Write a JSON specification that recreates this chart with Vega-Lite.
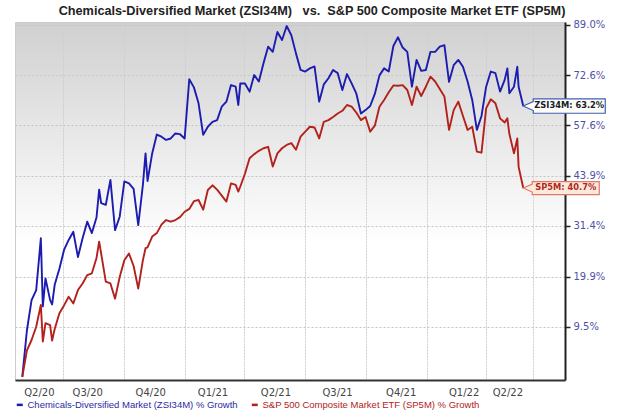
{
  "$schema": "https://vega.github.io/schema/vega-lite/v6.json",
  "width": 550,
  "height": 358,
  "autosize": {"type": "none"},
  "padding": {"left": 15, "top": 22, "right": 55, "bottom": 35},
  "background": "#ffffff",
  "title": {
    "text": "Chemicals-Diversified Market (ZSI34M)\u00a0\u00a0\u00a0vs.\u00a0\u00a0S&P 500 Composite Market ETF (SP5M)",
    "font": "Liberation Sans",
    "fontSize": 12.7,
    "fontWeight": "bold",
    "color": "#222222",
    "anchor": "middle",
    "frame": "group",
    "dx": 22,
    "offset": 2
  },
  "config": {
    "view": {
      "stroke": "#cccccc",
      "strokeWidth": 1,
      "fill": {
        "gradient": "linear",
        "x1": 0, "y1": 0, "x2": 0, "y2": 1,
        "stops": [
          {"offset": 0, "color": "#d0d0d0"},
          {"offset": 0.5, "color": "#f6f6f6"},
          {"offset": 0.62, "color": "#ffffff"},
          {"offset": 1, "color": "#ffffff"}
        ]
      }
    }
  },
  "datasets": {
    "perf": [
      {"date": "2020-05-01", "ZSI34M": 100.0, "SP5M": 100.0},
      {"date": "2020-05-08", "ZSI34M": 108.8, "SP5M": 104.9},
      {"date": "2020-05-15", "ZSI34M": 114.9, "SP5M": 106.9},
      {"date": "2020-05-22", "ZSI34M": 117.0, "SP5M": 109.5},
      {"date": "2020-05-29", "ZSI34M": 128.5, "SP5M": 113.9},
      {"date": "2020-06-01", "ZSI34M": 113.6, "SP5M": 106.6},
      {"date": "2020-06-05", "ZSI34M": 119.5, "SP5M": 110.2},
      {"date": "2020-06-12", "ZSI34M": 114.9, "SP5M": 109.8},
      {"date": "2020-06-15", "ZSI34M": 114.0, "SP5M": 106.8},
      {"date": "2020-06-19", "ZSI34M": 118.2, "SP5M": 109.1},
      {"date": "2020-06-26", "ZSI34M": 121.6, "SP5M": 112.2},
      {"date": "2020-07-03", "ZSI34M": 125.8, "SP5M": 113.8},
      {"date": "2020-07-10", "ZSI34M": 128.1, "SP5M": 115.6},
      {"date": "2020-07-17", "ZSI34M": 130.0, "SP5M": 114.2},
      {"date": "2020-07-24", "ZSI34M": 124.2, "SP5M": 117.0},
      {"date": "2020-07-31", "ZSI34M": 128.5, "SP5M": 118.4},
      {"date": "2020-08-07", "ZSI34M": 132.4, "SP5M": 120.2},
      {"date": "2020-08-14", "ZSI34M": 129.7, "SP5M": 120.6},
      {"date": "2020-08-21", "ZSI34M": 133.4, "SP5M": 124.0},
      {"date": "2020-08-25", "ZSI34M": 140.3, "SP5M": 127.7},
      {"date": "2020-08-28", "ZSI34M": 136.9, "SP5M": 125.0},
      {"date": "2020-09-04", "ZSI34M": 136.5, "SP5M": 118.8},
      {"date": "2020-09-11", "ZSI34M": 142.8, "SP5M": 118.4},
      {"date": "2020-09-18", "ZSI34M": 130.4, "SP5M": 115.2},
      {"date": "2020-09-25", "ZSI34M": 133.6, "SP5M": 119.8},
      {"date": "2020-10-02", "ZSI34M": 142.4, "SP5M": 123.5},
      {"date": "2020-10-09", "ZSI34M": 141.9, "SP5M": 125.0},
      {"date": "2020-10-16", "ZSI34M": 140.5, "SP5M": 122.2},
      {"date": "2020-10-23", "ZSI34M": 131.6, "SP5M": 117.3},
      {"date": "2020-10-30", "ZSI34M": 141.5, "SP5M": 123.5},
      {"date": "2020-11-03", "ZSI34M": 149.8, "SP5M": 126.2},
      {"date": "2020-11-06", "ZSI34M": 142.5, "SP5M": 126.4},
      {"date": "2020-11-13", "ZSI34M": 149.8, "SP5M": 128.9},
      {"date": "2020-11-20", "ZSI34M": 155.0, "SP5M": 129.7},
      {"date": "2020-11-27", "ZSI34M": 154.4, "SP5M": 131.7},
      {"date": "2020-12-04", "ZSI34M": 153.5, "SP5M": 132.8},
      {"date": "2020-12-11", "ZSI34M": 153.9, "SP5M": 132.4},
      {"date": "2020-12-18", "ZSI34M": 155.3, "SP5M": 132.8},
      {"date": "2020-12-25", "ZSI34M": 155.1, "SP5M": 133.5},
      {"date": "2021-01-01", "ZSI34M": 153.9, "SP5M": 134.8},
      {"date": "2021-01-08", "ZSI34M": 171.3, "SP5M": 135.5},
      {"date": "2021-01-15", "ZSI34M": 168.8, "SP5M": 137.4},
      {"date": "2021-01-22", "ZSI34M": 164.0, "SP5M": 137.7},
      {"date": "2021-01-29", "ZSI34M": 154.9, "SP5M": 135.3},
      {"date": "2021-02-05", "ZSI34M": 157.2, "SP5M": 140.2},
      {"date": "2021-02-12", "ZSI34M": 158.6, "SP5M": 141.4},
      {"date": "2021-02-19", "ZSI34M": 159.1, "SP5M": 140.3},
      {"date": "2021-02-26", "ZSI34M": 163.0, "SP5M": 138.8},
      {"date": "2021-03-05", "ZSI34M": 164.5, "SP5M": 137.3},
      {"date": "2021-03-12", "ZSI34M": 169.5, "SP5M": 141.9},
      {"date": "2021-03-19", "ZSI34M": 169.0, "SP5M": 141.5},
      {"date": "2021-03-23", "ZSI34M": 163.5, "SP5M": 139.8},
      {"date": "2021-03-26", "ZSI34M": 170.0, "SP5M": 141.1},
      {"date": "2021-04-02", "ZSI34M": 170.0, "SP5M": 144.4},
      {"date": "2021-04-09", "ZSI34M": 167.5, "SP5M": 148.5},
      {"date": "2021-04-16", "ZSI34M": 172.6, "SP5M": 149.6},
      {"date": "2021-04-23", "ZSI34M": 170.6, "SP5M": 150.5},
      {"date": "2021-04-30", "ZSI34M": 176.3, "SP5M": 151.2},
      {"date": "2021-05-07", "ZSI34M": 181.7, "SP5M": 151.6},
      {"date": "2021-05-14", "ZSI34M": 180.0, "SP5M": 146.3},
      {"date": "2021-05-21", "ZSI34M": 186.6, "SP5M": 149.8},
      {"date": "2021-05-28", "ZSI34M": 183.9, "SP5M": 151.2},
      {"date": "2021-06-04", "ZSI34M": 188.6, "SP5M": 152.1},
      {"date": "2021-06-11", "ZSI34M": 185.5, "SP5M": 152.6},
      {"date": "2021-06-18", "ZSI34M": 179.5, "SP5M": 150.8},
      {"date": "2021-06-25", "ZSI34M": 174.2, "SP5M": 154.4},
      {"date": "2021-07-02", "ZSI34M": 173.7, "SP5M": 155.8},
      {"date": "2021-07-09", "ZSI34M": 174.7, "SP5M": 157.2},
      {"date": "2021-07-16", "ZSI34M": 175.3, "SP5M": 157.0},
      {"date": "2021-07-23", "ZSI34M": 164.5, "SP5M": 153.9},
      {"date": "2021-07-30", "ZSI34M": 169.7, "SP5M": 158.6},
      {"date": "2021-08-06", "ZSI34M": 171.6, "SP5M": 159.1},
      {"date": "2021-08-13", "ZSI34M": 174.2, "SP5M": 160.0},
      {"date": "2021-08-20", "ZSI34M": 173.2, "SP5M": 161.0},
      {"date": "2021-08-27", "ZSI34M": 168.0, "SP5M": 161.8},
      {"date": "2021-09-03", "ZSI34M": 172.9, "SP5M": 163.5},
      {"date": "2021-09-10", "ZSI34M": 170.0, "SP5M": 163.0},
      {"date": "2021-09-17", "ZSI34M": 167.0, "SP5M": 161.3},
      {"date": "2021-09-24", "ZSI34M": 161.0, "SP5M": 159.1},
      {"date": "2021-10-01", "ZSI34M": 162.0, "SP5M": 160.0},
      {"date": "2021-10-08", "ZSI34M": 163.2, "SP5M": 155.8},
      {"date": "2021-10-15", "ZSI34M": 166.8, "SP5M": 157.5},
      {"date": "2021-10-22", "ZSI34M": 172.5, "SP5M": 163.0},
      {"date": "2021-10-29", "ZSI34M": 174.7, "SP5M": 165.0},
      {"date": "2021-11-05", "ZSI34M": 173.7, "SP5M": 167.3},
      {"date": "2021-11-12", "ZSI34M": 181.9, "SP5M": 169.4},
      {"date": "2021-11-19", "ZSI34M": 184.8, "SP5M": 169.3},
      {"date": "2021-11-26", "ZSI34M": 181.4, "SP5M": 169.5},
      {"date": "2021-12-03", "ZSI34M": 180.0, "SP5M": 168.0},
      {"date": "2021-12-10", "ZSI34M": 169.0, "SP5M": 163.5},
      {"date": "2021-12-17", "ZSI34M": 177.4, "SP5M": 169.0},
      {"date": "2021-12-24", "ZSI34M": 173.9, "SP5M": 166.2},
      {"date": "2021-12-31", "ZSI34M": 174.2, "SP5M": 169.0},
      {"date": "2022-01-07", "ZSI34M": 180.0, "SP5M": 172.1},
      {"date": "2022-01-14", "ZSI34M": 180.0, "SP5M": 170.6},
      {"date": "2022-01-21", "ZSI34M": 181.7, "SP5M": 168.3},
      {"date": "2022-01-28", "ZSI34M": 182.2, "SP5M": 166.0},
      {"date": "2022-02-04", "ZSI34M": 170.5, "SP5M": 156.3},
      {"date": "2022-02-11", "ZSI34M": 175.7, "SP5M": 162.0},
      {"date": "2022-02-18", "ZSI34M": 177.4, "SP5M": 164.5},
      {"date": "2022-02-25", "ZSI34M": 175.2, "SP5M": 160.3},
      {"date": "2022-03-04", "ZSI34M": 170.6, "SP5M": 156.3},
      {"date": "2022-03-11", "ZSI34M": 165.0, "SP5M": 157.2},
      {"date": "2022-03-18", "ZSI34M": 156.3, "SP5M": 150.3},
      {"date": "2022-03-25", "ZSI34M": 160.3, "SP5M": 150.0},
      {"date": "2022-04-01", "ZSI34M": 169.0, "SP5M": 162.5},
      {"date": "2022-04-08", "ZSI34M": 173.7, "SP5M": 165.2},
      {"date": "2022-04-15", "ZSI34M": 173.2, "SP5M": 164.0},
      {"date": "2022-04-22", "ZSI34M": 167.5, "SP5M": 159.6},
      {"date": "2022-04-29", "ZSI34M": 171.1, "SP5M": 158.4},
      {"date": "2022-05-03", "ZSI34M": 174.7, "SP5M": 159.6},
      {"date": "2022-05-06", "ZSI34M": 167.0, "SP5M": 155.2},
      {"date": "2022-05-13", "ZSI34M": 169.0, "SP5M": 149.8},
      {"date": "2022-05-18", "ZSI34M": 175.2, "SP5M": 153.9},
      {"date": "2022-05-20", "ZSI34M": 169.0, "SP5M": 146.2},
      {"date": "2022-05-27", "ZSI34M": 163.2, "SP5M": 140.7}
    ],
    "ends": [
      {"date": "2022-05-27", "series": "ZSI34M", "value": 163.2, "label": "ZSI34M: 63.2%"},
      {"date": "2022-05-27", "series": "SP5M", "value": 140.7, "label": "SP5M: 40.7%"}
    ]
  },
  "layer": [
    {
      "data": {"name": "perf"},
      "transform": [{"fold": ["ZSI34M", "SP5M"], "as": ["series", "value"]}],
      "mark": {"type": "line", "strokeWidth": 1.9, "strokeJoin": "round"},
      "encoding": {
        "x": {
          "field": "date",
          "type": "temporal",
          "scale": {
            "domain": [
              {"year": 2020, "month": 4, "date": 20, "utc": true},
              {"year": 2022, "month": 7, "date": 29, "utc": true}
            ]
          },
          "axis": {
            "orient": "bottom",
            "title": null,
            "values": [
              {"year": 2020, "month": 7, "date": 1, "utc": true},
              {"year": 2020, "month": 10, "date": 1, "utc": true},
              {"year": 2021, "month": 1, "date": 1, "utc": true},
              {"year": 2021, "month": 4, "date": 1, "utc": true},
              {"year": 2021, "month": 7, "date": 1, "utc": true},
              {"year": 2021, "month": 10, "date": 1, "utc": true},
              {"year": 2022, "month": 1, "date": 1, "utc": true},
              {"year": 2022, "month": 4, "date": 1, "utc": true},
              {"year": 2022, "month": 6, "date": 10, "utc": true}
            ],
            "grid": true,
            "gridColor": "#cfcfcf",
            "gridDash": [2, 1],
            "labels": false,
            "ticks": false,
            "domain": true,
            "domainColor": "#333333",
            "domainWidth": 2
          }
        },
        "y": {
          "field": "value",
          "type": "quantitative",
          "scale": {"type": "log", "domain": [99.44, 189.98], "nice": false, "zero": false},
          "axis": {
            "orient": "right",
            "title": null,
            "values": [109.5, 119.9, 131.4, 143.9, 157.6, 172.6, 189.0],
            "labelExpr": "format(datum.value - 100, '.1f') + '%'",
            "grid": true,
            "gridColor": "#c4c4c4",
            "gridDash": [2, 2],
            "domainColor": "#222222",
            "domainWidth": 2,
            "tickColor": "#222222",
            "tickSize": 5,
            "tickWidth": 1.5,
            "labelFont": "DejaVu Sans",
            "labelFontSize": 10,
            "labelColor": "#5050a8",
            "labelPadding": 3
          }
        },
        "color": {
          "field": "series",
          "type": "nominal",
          "scale": {"domain": ["ZSI34M", "SP5M"], "range": ["#1c1cb0", "#b3211c"]},
          "legend": {
            "orient": "none",
            "legendX": 0,
            "legendY": 378,
            "direction": "horizontal",
            "title": null,
            "padding": 0,
            "symbolType": "stroke",
            "symbolSize": 36,
            "symbolStrokeWidth": 2.5,
            "labelFont": "Liberation Sans",
            "labelFontSize": 9.5,
            "labelLimit": 400,
            "labelOffset": 3,
            "columnPadding": 8,
            "labelExpr": "datum.value == 'ZSI34M' ? 'Chemicals-Diversified Market (ZSI34M) % Growth' : 'S&P 500 Composite Market ETF (SP5M) % Growth'",
            "labelColor": {"expr": "datum.value == 'SP5M' ? '#b3211c' : '#2a2aa5'"}
          }
        }
      }
    },
    {
      "data": {"name": "ends"},
      "transform": [{"filter": "datum.series == 'ZSI34M'"}],
      "mark": {
        "type": "point",
        "shape": "M0,0L1,-0.45L1,-0.72L8.2,-0.72L8.2,0.72L1,0.72L1,0.45Z",
        "size": 400,
        "filled": true,
        "fill": "#fdfdf7",
        "stroke": "#3f5fb5",
        "strokeWidth": 1.2,
        "opacity": 1
      },
      "encoding": {
        "x": {
          "field": "date",
          "type": "temporal",
          "axis": {
            "orient": "bottom",
            "title": null,
            "values": [
              {"year": 2020, "month": 5, "date": 26, "utc": true},
              {"year": 2020, "month": 8, "date": 7, "utc": true},
              {"year": 2020, "month": 11, "date": 10, "utc": true},
              {"year": 2021, "month": 2, "date": 12, "utc": true},
              {"year": 2021, "month": 5, "date": 18, "utc": true},
              {"year": 2021, "month": 8, "date": 19, "utc": true},
              {"year": 2021, "month": 11, "date": 23, "utc": true},
              {"year": 2022, "month": 2, "date": 26, "utc": true},
              {"year": 2022, "month": 5, "date": 3, "utc": true}
            ],
            "labelExpr": "'Q' + utcFormat(datum.value, '%q/%y')",
            "grid": false,
            "ticks": false,
            "domain": false,
            "labelFont": "DejaVu Sans",
            "labelFontSize": 10,
            "labelColor": "#444444",
            "labelPadding": 7,
            "labelFlush": false,
            "labelOverlap": false
          }
        },
        "y": {"field": "value", "type": "quantitative"}
      }
    },
    {
      "data": {"name": "ends"},
      "transform": [{"filter": "datum.series == 'ZSI34M'"}],
      "mark": {
        "type": "text",
        "dx": 46,
        "align": "center",
        "baseline": "middle",
        "font": "DejaVu Sans",
        "fontSize": 8.3,
        "fontWeight": "bold",
        "color": "#1a1a30"
      },
      "encoding": {
        "x": {"field": "date", "type": "temporal", "axis": null},
        "y": {"field": "value", "type": "quantitative"},
        "text": {"field": "label"}
      }
    },
    {
      "data": {"name": "ends"},
      "transform": [{"filter": "datum.series == 'SP5M'"}],
      "mark": {
        "type": "point",
        "shape": "M0,0L0.9,-0.4L0.9,-0.65L7.6,-0.65L7.6,0.65L0.9,0.65L0.9,0.4Z",
        "size": 400,
        "filled": true,
        "fill": "#fde8dc",
        "stroke": "#e07a68",
        "strokeWidth": 1.2,
        "opacity": 1
      },
      "encoding": {
        "x": {"field": "date", "type": "temporal", "axis": null},
        "y": {"field": "value", "type": "quantitative"}
      }
    },
    {
      "data": {"name": "ends"},
      "transform": [{"filter": "datum.series == 'SP5M'"}],
      "mark": {
        "type": "text",
        "dx": 42.5,
        "align": "center",
        "baseline": "middle",
        "font": "DejaVu Sans",
        "fontSize": 8.3,
        "fontWeight": "bold",
        "color": "#b02a1a"
      },
      "encoding": {
        "x": {"field": "date", "type": "temporal", "axis": null},
        "y": {"field": "value", "type": "quantitative"},
        "text": {"field": "label"}
      }
    }
  ],
  "resolve": {"axis": {"x": "independent"}}
}
